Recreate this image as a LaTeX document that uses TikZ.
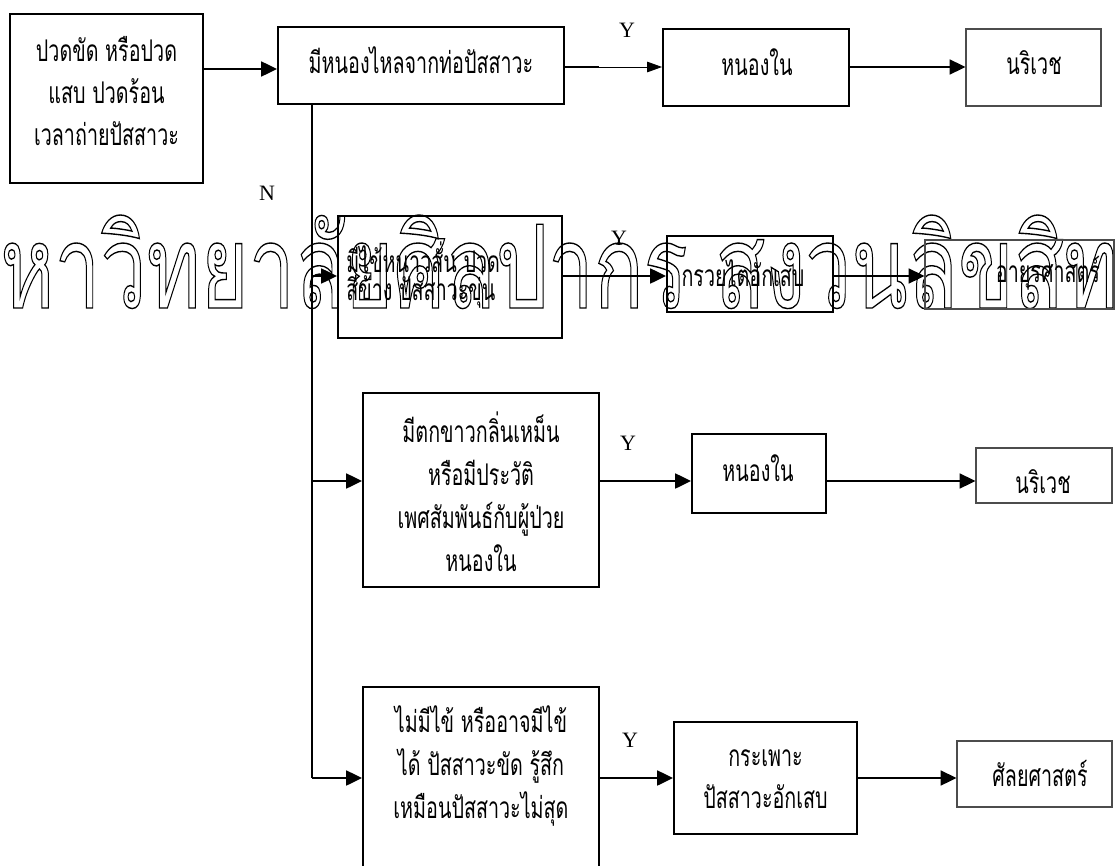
\documentclass[tikz,border=0pt]{standalone}
\usepackage{fontspec}
\setmainfont{Liberation Serif}
\newfontfamily\thai[Script=Thai,FakeStretch=0.66]{Loma}
\newfontfamily\wmfont[Script=Thai]{Loma}
\usetikzlibrary{arrows.meta}

% one drawing unit = 0.02cm
\newcommand\pxu{0.02cm}
% hollow letters: stroke only, light grey
\newcommand\outlined[1]{\special{pdf:literal direct 1 Tr 0.12 w 0.63 G}#1\special{pdf:literal direct 0 Tr 0 G}}
\newsavebox\wmmid
\newsavebox\wmref

\tikzset{
  boxthick/.style={draw=black, line width=1.1pt, inner sep=0pt},
  boxthin/.style={draw=black!70, line width=0.6pt, inner sep=0pt},
  thtxt/.style={font=\thai\fontsize{17}{23.8}\selectfont, align=center, inner sep=0pt},
  yn/.style={font=\fontsize{12.5}{14}\selectfont, inner sep=0pt},
  flow/.style={line width=1.1pt, -{Triangle[length=9pt,width=8.5pt]}},
  flowthin/.style={line width=0.5pt, -{Triangle[length=8.5pt,width=6pt]}},
  spine/.style={line width=1.1pt},
}

\begin{document}
\sbox\wmmid{\wmfont หาวิทยาลัยศิลปากร สงวนลิขสิท}
\sbox\wmref{\wmfont า}
\begin{tikzpicture}[x=\pxu, y=-\pxu]
\useasboundingbox (0,0) rectangle (1118,865);
\clip (0,0) rectangle (1118,865);

% background mark, outlined letters
\pgfmathsetmacro\wmsx{1118*0.5690551/\wd\wmmid}
\pgfmathsetmacro\wmsy{65*0.5690551/\ht\wmref}
\node[anchor=base west, inner sep=0pt, text=black!45] (wm) at (0,308)
  {\outlined{\scalebox{\wmsx}[\wmsy]{\llap{\wmfont ม}\usebox\wmmid\rlap{\wmfont ธิ์}}}};

% boxes
\node[boxthick, minimum width=193*\pxu, minimum height=169*\pxu] (b1) at (106.5,98.5) {};
\node[boxthick, minimum width=286*\pxu, minimum height=77*\pxu] (b2) at (421,65.5) {};
\node[boxthick, minimum width=186*\pxu, minimum height=77*\pxu] (b3) at (756,67.5) {};
\node[boxthin,  minimum width=135*\pxu, minimum height=77*\pxu] (b4) at (1033.5,67.5) {};
\node[boxthick, minimum width=224*\pxu, minimum height=122*\pxu] (b5) at (450,277) {};
\node[boxthick, minimum width=166*\pxu, minimum height=76*\pxu] (b6) at (750,274) {};
\node[boxthin,  minimum width=189*\pxu, minimum height=69*\pxu] (b7) at (1019.5,274.5) {};
\node[boxthick, minimum width=236*\pxu, minimum height=194*\pxu] (b8) at (481,490) {};
\node[boxthick, minimum width=134*\pxu, minimum height=79*\pxu] (b9) at (759,473.5) {};
\node[boxthin,  minimum width=136*\pxu, minimum height=55*\pxu] (b10) at (1044,475.5) {};
\node[boxthick, minimum width=236*\pxu, minimum height=193*\pxu] (b11) at (481,783.5) {};
\node[boxthick, minimum width=183*\pxu, minimum height=112*\pxu] (b12) at (765.5,778) {};
\node[boxthin,  minimum width=155*\pxu, minimum height=66*\pxu] (b13) at (1034.5,774) {};

% texts
\node[thtxt] (t1) at (106.5,91) {ปวดขัด หรือปวด\\แสบ ปวดร้อน\\เวลาถ่ายปัสสาวะ};
\node[thtxt] (t2) at (421,60) {มีหนองไหลจากท่อปัสสาวะ};
\node[thtxt] (t3) at (757,62) {หนองใน};
\node[thtxt] (t4) at (1034,63) {นริเวช};
\node[thtxt, align=left, anchor=west, font=\thai\fontsize{17}{16}\selectfont] (t5) at (346,275) {มีไข้หนาวสั่น ปวด\\สีข้าง ปัสสาวะขุ่น};
\node[thtxt] (t6) at (743,273) {กรวยไตอักเสบ};
\node[thtxt] (t7) at (1048,273) {อายุรศาสตร์};
\node[thtxt, font=\thai\fontsize{17}{24.4}\selectfont] (t8) at (481,492) {มีตกขาวกลิ่นเหม็น\\หรือมีประวัติ\\เพศสัมพันธ์กับผู้ป่วย\\หนองใน};
\node[thtxt] (t9) at (758,468) {หนองใน};
\node[thtxt] (t10) at (1043,482) {นริเวช};
\node[thtxt, font=\thai\fontsize{17}{24.4}\selectfont] (t11) at (481,766) {ไม่มีไข้ หรืออาจมีไข้\\ได้ ปัสสาวะขัด รู้สึก\\เหมือนปัสสาวะไม่สุด};
\node[thtxt] (t12) at (765.5,779) {กระเพาะ\\ปัสสาวะอักเสบ};
\node[thtxt] (t13) at (1040,773) {ศัลยศาสตร์};

% branch labels
\node[yn] (y1) at (627,30) {Y};
\node[yn] (y2) at (619,238) {Y};
\node[yn] (y3) at (628,443) {Y};
\node[yn] (y4) at (630,740) {Y};
\node[yn] (n1) at (267,193) {N};

% helper rows and the spine
\coordinate (r1) at (0,69);
\coordinate (r2) at (0,67);
\coordinate (r5) at (0,276);
\coordinate (r8) at (0,481);
\coordinate (r11) at (0,778);
\coordinate (sp) at (312,0);
\coordinate (brk) at (599,67);

% connectors
\draw[flow] (b1.east |- r1) -- (b2.west |- r1);
\draw[spine] (b2.east |- r2) -- (brk);
\draw[flowthin] (brk) -- (b3.west |- r2);
\draw[flow] (b3.east |- r2) -- (b4.west |- r2);

\draw[spine] (b2.south -| sp) -- (sp |- r11);
\draw[flow] (sp |- r5) -- (b5.west |- r5);
\draw[flow] (sp |- r8) -- (b8.west |- r8);
\draw[flow] (sp |- r11) -- (b11.west |- r11);

\draw[flow] (b5.east |- r5) -- (b6.west |- r5);
\draw[flow] (b6.east |- r5) -- (b7.west |- r5);
\draw[flow] (b8.east |- r8) -- (b9.west |- r8);
\draw[flow] (b9.east |- r8) -- (b10.west |- r8);
\draw[flow] (b11.east |- r11) -- (b12.west |- r11);
\draw[flow] (b12.east |- r11) -- (b13.west |- r11);
\end{tikzpicture}
\end{document}
